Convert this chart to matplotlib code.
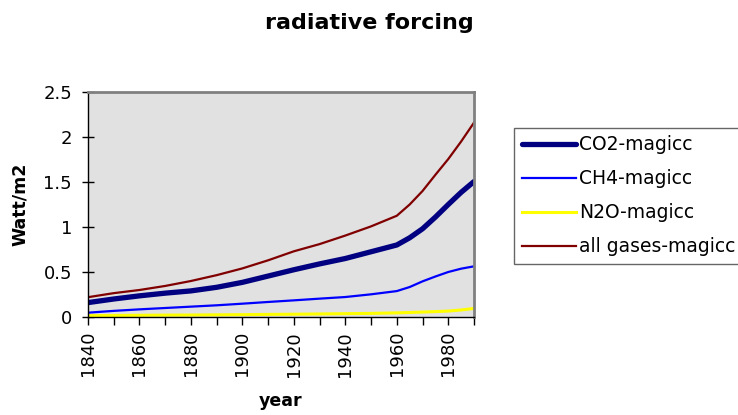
import matplotlib
matplotlib.use("Agg")
import matplotlib.pyplot as plt

years = [1840, 1850, 1860, 1870, 1880, 1890, 1900, 1910, 1920, 1930, 1940, 1950, 1960, 1965, 1970, 1975, 1980, 1985, 1990]
co2 = [0.16, 0.20, 0.235, 0.265, 0.29, 0.33, 0.385, 0.455, 0.525, 0.59, 0.65, 0.725, 0.80, 0.88, 0.98, 1.11, 1.25, 1.385, 1.505]
ch4 = [0.048, 0.068, 0.085, 0.10, 0.115, 0.13, 0.148, 0.167, 0.185, 0.204, 0.222, 0.252, 0.288, 0.333, 0.396, 0.45, 0.50, 0.537, 0.563]
n2o = [0.015, 0.017, 0.019, 0.021, 0.022, 0.024, 0.026, 0.029, 0.031, 0.034, 0.037, 0.040, 0.046, 0.050, 0.055, 0.060, 0.066, 0.078, 0.095]
allg = [0.22, 0.265, 0.30, 0.345, 0.40, 0.465, 0.54, 0.63, 0.73, 0.81, 0.905, 1.007, 1.125, 1.25, 1.40, 1.58, 1.755, 1.95, 2.16]

series_names = ["CO2-magicc", "CH4-magicc", "N2O-magicc", "all gases-magicc"]
xtick_years = list(range(1840, 1991, 10))
xtick_labels = [str(y) if (y - 1840) % 20 == 0 else "" for y in xtick_years]
ytick_vals = [0, 0.5, 1, 1.5, 2, 2.5]
ytick_labels = ["0", "0.5", "1", "1.5", "2", "2.5"]

W, H = 738, 415
fig = plt.figure(figsize=(W / 100, H / 100), dpi=100)
L, R, T, B = 88, 474, 92, 317
ax = fig.add_axes([L / W, 1 - B / H, (R - L) / W, (B - T) / H])
ax.set_facecolor("#e1e1e1")

ax.plot(years, co2, color="#000080", lw=3.8, label=series_names[0], solid_capstyle="round")
ax.plot(years, ch4, color="#0000ff", lw=1.6, label=series_names[1])
ax.plot(years, n2o, color="#ffff00", lw=2.2, label=series_names[2])
ax.plot(years, allg, color="#800000", lw=1.6, label=series_names[3])

ax.set_xlim(1840, 1990)
ax.set_ylim(0, 2.5)
ax.set_xticks(xtick_years)
ax.set_xticklabels(xtick_labels, rotation=90, fontsize=13)
ax.set_yticks(ytick_vals)
ax.set_yticklabels(ytick_labels, fontsize=13)
ax.tick_params(axis="y", direction="inout", length=9, width=1, pad=7)
ax.tick_params(axis="x", direction="out", length=6, width=1, pad=4)

for side in ["top", "right"]:
    ax.spines[side].set_color("#808080")
    ax.spines[side].set_linewidth(2)
for side in ["left", "bottom"]:
    ax.spines[side].set_color("black")
    ax.spines[side].set_linewidth(1)

fig.text(0.5, 1 - 23 / H, "radiative forcing", ha="center", va="center", fontsize=16, fontweight="bold")
fig.text(20 / W, 1 - 204 / H, "Watt/m2", ha="center", va="center", rotation=90, fontsize=12.5, fontweight="bold")
fig.text(281 / W, 1 - 401 / H, "year", ha="center", va="center", fontsize=12.5, fontweight="bold")

leg = fig.legend(loc="upper left", bbox_to_anchor=(514 / W, 1 - 128 / H), fontsize=13.5,
                 frameon=True, fancybox=False, shadow=False, borderaxespad=0,
                 handlelength=2.9, handletextpad=0.15, labelspacing=0.8, borderpad=0.4)
leg.get_frame().set_edgecolor("#404040")
leg.get_frame().set_linewidth(1)
leg.get_frame().set_facecolor("white")

fig.savefig("out.png", dpi=100)
